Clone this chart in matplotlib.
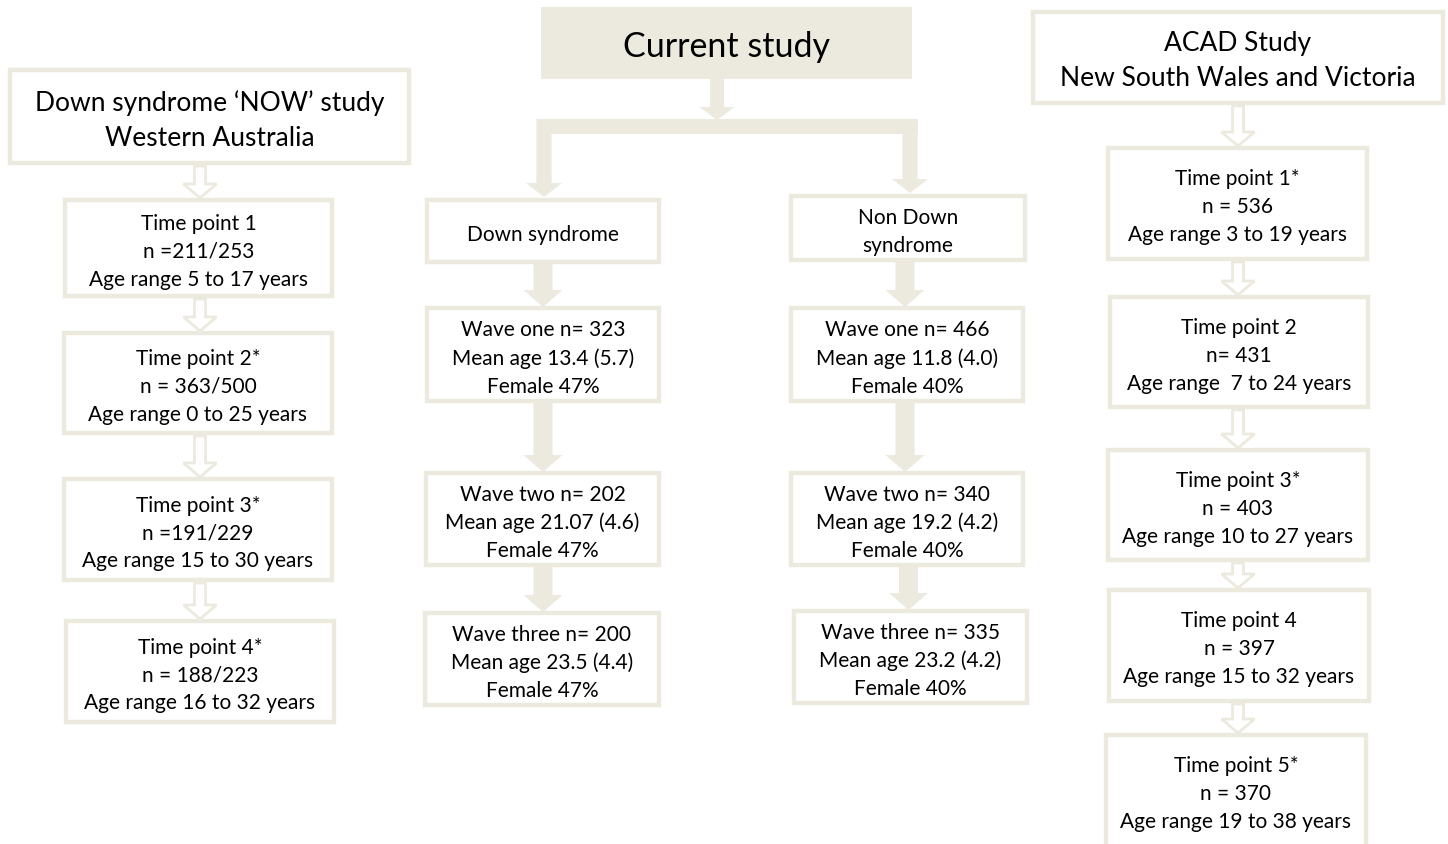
import matplotlib.pyplot as plt
from matplotlib.patches import Rectangle, Polygon

plt.rcParams['font.family'] = ['Lato', 'DejaVu Sans']

beige = '#ECE9DF'

# texts of the three columns
now_title = "Down syndrome \u2018NOW\u2019 study\nWestern Australia"
now_points = ["Time point 1", "Time point 2*", "Time point 3*", "Time point 4*"]
now_n = ["n =211/253", "n = 363/500", "n =191/229", "n = 188/223"]
now_age = ["Age range 5 to 17 years", "Age range 0 to 25 years",
           "Age range 15 to 30 years", "Age range 16 to 32 years"]

cur_title = "Current study"
groups = ["Down syndrome", "Non Down\nsyndrome"]
waves = ["one", "two", "three"]
ds_n = [323, 202, 200]
ds_age = ["13.4 (5.7)", "21.07 (4.6)", "23.5 (4.4)"]
ds_female = [47, 47, 47]
nds_n = [466, 340, 335]
nds_age = ["11.8 (4.0)", "19.2 (4.2)", "23.2 (4.2)"]
nds_female = [40, 40, 40]

acad_title = "ACAD Study\nNew South Wales and Victoria"
acad_points = ["Time point 1*", "Time point 2", "Time point 3*", "Time point 4", "Time point 5*"]
acad_n = ["n = 536", "n= 431", "n = 403", "n = 397", "n = 370"]
acad_age = ["Age range 3 to 19 years", "Age range  7 to 24 years",
            "Age range 10 to 27 years", "Age range 15 to 32 years",
            "Age range 19 to 38 years"]

SMALL = 15
LS = 1.48

fig = plt.figure(figsize=(14.48, 8.45), dpi=100)
ax = fig.add_axes([0, 0, 1, 1])
ax.set_xlim(0, 1448)
ax.set_ylim(845, 0)
ax.axis('off')


def box(x0, y0, x1, y1, text, size=SMALL, filled=False, ls=LS, ty=None):
    if filled:
        ax.add_patch(Rectangle((x0, y0), x1 - x0, y1 - y0, facecolor=beige,
                               edgecolor='none'))
    else:
        ax.add_patch(Rectangle((x0 + 2, y0 + 2), x1 - x0 - 4, y1 - y0 - 4,
                               facecolor='white', edgecolor=beige, lw=3.2))
    if ty is None:
        ty = (y0 + y1) / 2 + 3
    ax.text((x0 + x1) / 2, ty, text, ha='center', va='center',
            fontsize=size, linespacing=ls, color='black')


def arrow_pts(cx, y0, y1, shaft, head, head_len):
    yh = y1 - head_len
    return [(cx - shaft / 2, y0), (cx + shaft / 2, y0), (cx + shaft / 2, yh),
            (cx + head / 2, yh), (cx, y1), (cx - head / 2, yh),
            (cx - shaft / 2, yh)]


def solid_arrow(cx, y0, y1, shaft=15, head=36, head_len=14):
    ax.add_patch(Polygon(arrow_pts(cx, y0, y1, shaft, head, head_len),
                         closed=True, facecolor=beige, edgecolor='none'))


def hollow_arrow(cx, y0, y1, shaft=11, head=33, head_len=14):
    ax.add_patch(Polygon(arrow_pts(cx, y0 + 1, y1, shaft, head, head_len),
                         closed=True, facecolor='white', edgecolor=beige, lw=2))


# left column: NOW study
box(8, 69, 411, 166, now_title, size=19, ls=1.49)
now_boxes = [(63, 199, 334, 299), (62, 332, 334, 436), (62, 478, 334, 583), (64, 620, 336, 725)]
prev = 166
for i, (x0, y0, x1, y1) in enumerate(now_boxes):
    hollow_arrow(200, prev, y0)
    box(x0, y0, x1, y1, f"{now_points[i]}\n{now_n[i]}\n{now_age[i]}")
    prev = y1

# middle column: current study
box(541, 8, 912, 80, cur_title, size=24.5, filled=True, ty=47)
solid_arrow(717, 80, 121, shaft=14, head=35, head_len=13)
ax.add_patch(Rectangle((537, 120), 381, 15, facecolor=beige, edgecolor='none'))
solid_arrow(544, 120, 198)
solid_arrow(910, 120, 194)

box(425, 199, 661, 265, groups[0])
box(789, 195, 1027, 263, groups[1], ls=1.45)

ds_boxes = [(425, 307, 661, 404), (424, 472, 661, 568), (423, 612, 661, 708)]
nds_boxes = [(789, 307, 1025, 404), (789, 472, 1025, 568), (792, 610, 1029, 706)]
prev = 265
for i, (x0, y0, x1, y1) in enumerate(ds_boxes):
    solid_arrow(543, prev, y0 + 1, shaft=19, head=39, head_len=17)
    box(x0, y0, x1, y1, f"Wave {waves[i]} n= {ds_n[i]}\nMean age {ds_age[i]}\nFemale {ds_female[i]}%")
    prev = y1
prev = 263
for i, (x0, y0, x1, y1) in enumerate(nds_boxes):
    solid_arrow((x0 + x1) / 2 - 2, prev, y0 + 1, shaft=19, head=39, head_len=17)
    box(x0, y0, x1, y1, f"Wave {waves[i]} n= {nds_n[i]}\nMean age {nds_age[i]}\nFemale {nds_female[i]}%")
    prev = y1

# right column: ACAD study
box(1031, 11, 1445, 106, acad_title, size=19, ls=1.49, ty=61)
acad_boxes = [(1106, 147, 1369, 262), (1108, 296, 1370, 410), (1106, 449, 1370, 563),
              (1107, 589, 1371, 704), (1104, 734, 1368, 860)]
prev = 106
for i, (x0, y0, x1, y1) in enumerate(acad_boxes):
    hollow_arrow(1238, prev, y0)
    txt = f"{acad_points[i]}\n{acad_n[i]}\n{acad_age[i]}"
    box(x0, y0, x1, y1, txt, ty=y0 + 60)
    prev = y1

fig.savefig('out.png', dpi=100, facecolor='white')
